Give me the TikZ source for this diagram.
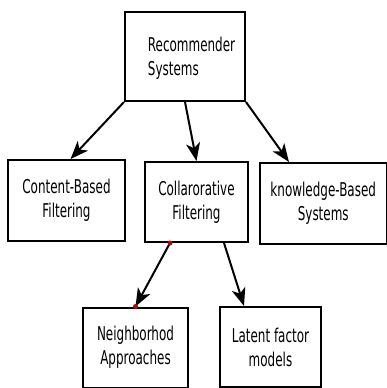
\documentclass[tikz,border=0pt]{standalone}
\usepackage{fontspec}
\usepackage{tikz}
\usetikzlibrary{arrows.meta}
\newfontfamily\boxfont{DejaVu Sans}[FakeStretch=0.63]
\definecolor{dotred}{RGB}{170,10,10}

\begin{document}
\begin{tikzpicture}[x=1pt,y=-1pt,
    box/.style={draw, line width=2pt, inner sep=0pt, align=center,
      font=\boxfont\fontsize{19}{24}\selectfont},
    arr/.style={line width=2pt, -{Stealth[length=18pt,width=14pt,inset=5pt]}}]
    \useasboundingbox (0,0) rectangle (387,388);
    % boxes
    \node[box, minimum width=120, minimum height=89] (rs) at (185,56.5) {};
    \node[box, draw=none, align=left] (rstext) at (191.5,58) {Recommender\\Systems};
    \node[box, minimum width=117, minimum height=81] (cbf) at (66.5,200.5) {Content-Based\\Filtering};
    \node[box, minimum width=103, minimum height=80] (cf) at (196.5,202) {Collarorative\\Filtering};
    \node[box, minimum width=126.5, minimum height=81] (kbs) at (323.25,203.5) {knowledge-Based\\Systems};
    \node[box, minimum width=105, minimum height=80] (na) at (135.5,347.5) {Neighborhod\\Approaches};
    \node[box, minimum width=101, minimum height=80] (lf) at (270.5,347) {Latent factor\\models};
    % connectors
    \draw[arr] (rs.south west) -- ([xshift=4]cbf.north);
    \draw[arr] (rs.south) -- (cf.north);
    \draw[arr] (rs.south east) -- ([xshift=30]kbs.north west);
    \coordinate (cfa) at ([xshift=26]cf.south west);
    \draw[arr] (cfa) -- (na.north);
    \draw[arr] ([xshift=-25]cf.south east) -- ([xshift=25]lf.north west);
    \fill[dotred] (cfa) circle (2.5);
    \fill[dotred] (na.north) circle (2.5);
\end{tikzpicture}
\end{document}
